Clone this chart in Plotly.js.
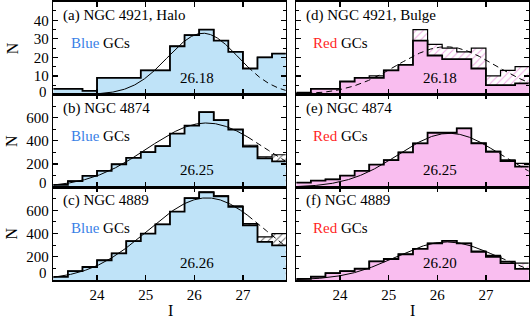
<!DOCTYPE html>
<html><head><meta charset="utf-8">
<script src="https://cdn.plot.ly/plotly-3.0.1.min.js"></script>
<style>html,body{margin:0;padding:0;background:#fff}</style>
</head><body><div id="chart" style="width:531px;height:319px"></div>
<script>
// Bin edges of the I-band magnitude histograms
const binEdges = [23.1,23.4,23.7,24.0,24.3,24.6,24.9,25.2,25.5,25.8,26.1,26.4,26.7,27.0,27.3,27.6,27.9];

// Counts (raw = filled, corrected = outline/hatched)
const nBlue4921 = [3,3,2,9,9,9,13,13,26,32,35,29,23,14,20,22];
const nBlue4921Corr = [3,3,2,9,9,9,13,13,26,32,35,29,23,14,20,22];
const nBlue4874 = [20,53,97,140,198,253,303,355,462,532,648,578,498,350,248,222];
const nBlue4874Corr = [20,53,97,140,198,253,303,355,462,532,648,578,498,362,262,280];
const nBlue4889 = [27,77,112,170,230,335,400,480,590,705,755,722,630,472,328,299];
const nBlue4889Corr = [27,77,112,170,230,335,400,480,590,705,760,725,640,486,371,400];
const nRed4921 = [1,3,3,7,9,9,13,16,29,21,19,19,14,5,5,6];
const nRed4921Corr = [1,3,3,7,9,10,13,16,35,27,25,23,25,10,13,15];
const nRed4874 = [40,56,68,100,140,195,233,300,378,470,470,508,379,306,226,177];
const nRed4874Corr = [40,56,68,100,140,195,233,300,378,470,470,508,379,310,235,206];
const nRed4889 = [10,28,60,77,97,160,181,222,268,315,337,315,243,200,145,95];
const nRed4889Corr = [10,28,60,77,97,160,181,222,268,315,337,315,250,212,160,145];

// Gaussian fit parameters (turnover magnitude, width, peak height)
const fitMean = [26.18, 26.25, 26.26, 26.18, 26.25, 26.20];
const fitSigma = [0.73, 1.21, 1.21, 1.02, 1.05, 1.05];
const fitPeak = [33, 554, 708, 25.7, 465, 328];
const fitSolidLimit = [27.1, 27.1, 27.1, 23.1, 27.1, 27.1];

const panelLabels = ['(a) NGC 4921, Halo','(b) NGC 4874','(c) NGC 4889','(d) NGC 4921, Bulge','(e) NGC 4874','(f) NGC 4889'];
const peakLabels = ['26.18','26.25','26.26','26.18','26.25','26.20'];
const popNames = ['Blue','Blue','Blue','Red','Red','Red'];
const yMax = [50, 800, 800, 50, 800, 800];
const yTicksSmall = [0, 10, 20, 30, 40];
const yTicksLarge = [0, 200, 400, 600];
const xTickVals = [24, 25, 26, 27];

const rawSets = [nBlue4921, nBlue4874, nBlue4889, nRed4921, nRed4874, nRed4889];
const corrSets = [nBlue4921Corr, nBlue4874Corr, nBlue4889Corr, nRed4921Corr, nRed4874Corr, nRed4889Corr];

const FONT = 'Liberation Serif, Times New Roman, serif';
const fillCol = {Blue:'#bfe3f8', Red:'#f9bdef'};
const hatchCol = {Blue:'#666666', Red:'#eeaae2'};
const wordCol = {Blue:'#3a7fe6', Red:'#ff1f1f'};

const xDom = [[0.1004, 0.538],[0.558, 0.9957]];
const yDom = [[0.7038, 0.9947],[0.4132, 0.7038],[0.1223, 0.4132]];

const traces = [];
const layout = {
  width: 531, height: 319,
  margin: {l:0, r:0, t:0, b:0},
  paper_bgcolor: '#fff', plot_bgcolor: '#fff',
  showlegend: false,
  font: {family: FONT, size: 15, color: '#000'},
  annotations: []
};

function stepY(arr){ return arr.concat([arr[arr.length-1]]); }

for (let p = 0; p < 6; p++) {
  const col = p < 3 ? 0 : 1, row = p % 3;
  const xa = 'x' + (p+1), ya = 'y' + (p+1);
  const pop = popNames[p];
  // corrected (hatched) histogram
  traces.push({x: binEdges, y: stepY(corrSets[p]), xaxis: xa, yaxis: ya, type:'scatter', mode:'lines',
    line:{shape:'hv', color:'#000', width:1.2}, fill:'tozeroy', fillcolor:hatchCol[pop],
    fillpattern:{shape:'/', size:5, solidity:0.2, fgcolor:hatchCol[pop], fgopacity:1, bgcolor:'#ffffff'}, hoverinfo:'skip'});
  // raw histogram
  traces.push({x: binEdges, y: stepY(rawSets[p]), xaxis: xa, yaxis: ya, type:'scatter', mode:'lines',
    line:{shape:'hv', color:'#000', width:1.8}, fill:'tozeroy', fillcolor:fillCol[pop], hoverinfo:'skip'});
  // Gaussian fit curve
  const xs = [];
  for (let i = 0; i <= 480; i++) xs.push(23.1 + i*0.01);
  const g = v => fitPeak[p]*Math.exp(-Math.pow(v-fitMean[p],2)/(2*fitSigma[p]*fitSigma[p]));
  const lim = fitSolidLimit[p];
  const xsS = xs.filter(v => v <= lim + 1e-9), xsD = xs.filter(v => v >= lim - 1e-9);
  if (xsS.length > 1) traces.push({x: xsS, y: xsS.map(g), xaxis: xa, yaxis: ya, type:'scatter', mode:'lines',
    line:{color:'#000', width:1}, hoverinfo:'skip'});
  traces.push({x: xsD, y: xsD.map(g), xaxis: xa, yaxis: ya, type:'scatter', mode:'lines',
    line:{color:'#000', width:1, dash:'6px,4px'}, hoverinfo:'skip'});

  const sfx = p === 0 ? '' : String(p+1);
  const yt = yMax[p] === 50 ? yTicksSmall : yTicksLarge;
  layout['xaxis' + sfx] = {
    domain: xDom[col], anchor: ya, range:[23.1, 27.88], tickvals: xTickVals, ticktext: xTickVals.map(String),
    ticks:'inside', ticklen:5, tickwidth:1.2, tickcolor:'#000', mirror:'allticks',
    showline:true, linewidth:1.6, linecolor:'#000', showgrid:false, zeroline:false,
    showticklabels: row === 2, tickfont:{family:FONT, size:15, color:'#000'}
  };
  layout['yaxis' + sfx] = {
    domain: yDom[row], anchor: xa, range:[0, yMax[p]], tickvals: yt,
    ticktext: yt.map(v => v === 0 ? '' : String(v)),
    ticks:'inside', ticklen:5, tickwidth:1.2, tickcolor:'#000', mirror:'allticks',
    minor:{dtick: yt[1]/2, tick0:0, ticks:'inside', ticklen:3, tickwidth:1, tickcolor:'#000'},
    showline:true, linewidth:1.6, linecolor:'#000', showgrid:false, zeroline:false,
    showticklabels: col === 0, tickfont:{family:FONT, size:15, color:'#000'}
  };
  const xr = xa + ' domain', yr = ya + ' domain';
  layout.annotations.push({xref:xr, yref:yr, x:0.033, y:0.853, xanchor:'left', yanchor:'middle',
    text: panelLabels[p], showarrow:false, font:{family:FONT, size:15, color:'#000'}});
  layout.annotations.push({xref:xr, yref:yr, x: col === 0 ? 0.0675 : 0.063, y:0.556, xanchor:'left', yanchor:'middle',
    text: '<span style="color:' + wordCol[pop] + '">' + pop + '</span> GCs', showarrow:false, font:{family:FONT, size:15, color:'#000'}});
  layout.annotations.push({xref:xr, yref:yr, x:0.617, y:0.181, xanchor:'center', yanchor:'middle',
    text: peakLabels[p], showarrow:false, font:{family:FONT, size:15, color:'#000'}});
}
// zero tick labels, lifted slightly above the panel bottom as in the original
[91.5, 183.5, 272.5].forEach(py => layout.annotations.push({xref:'paper', yref:'paper', x:49/531, y:1-py/319,
  xanchor:'right', yanchor:'middle', height:12, text:'0', showarrow:false, font:{family:FONT, size:15, color:'#000'}}));
// axis titles
[0.849, 0.558, 0.268].forEach(yy => layout.annotations.push({xref:'paper', yref:'paper', x:12/531, y:yy,
  xanchor:'center', yanchor:'middle', text:'N', textangle:-90, showarrow:false, font:{family:FONT, size:16, color:'#000'}}));
[170/531, 412/531].forEach(xx => layout.annotations.push({xref:'paper', yref:'paper', x:xx, y:1-310/319,
  xanchor:'center', yanchor:'middle', text:'I', showarrow:false, font:{family:FONT, size:16, color:'#000'}}));

Plotly.newPlot('chart', traces, layout, {displayModeBar:false, staticPlot:true});
</script></body></html>
